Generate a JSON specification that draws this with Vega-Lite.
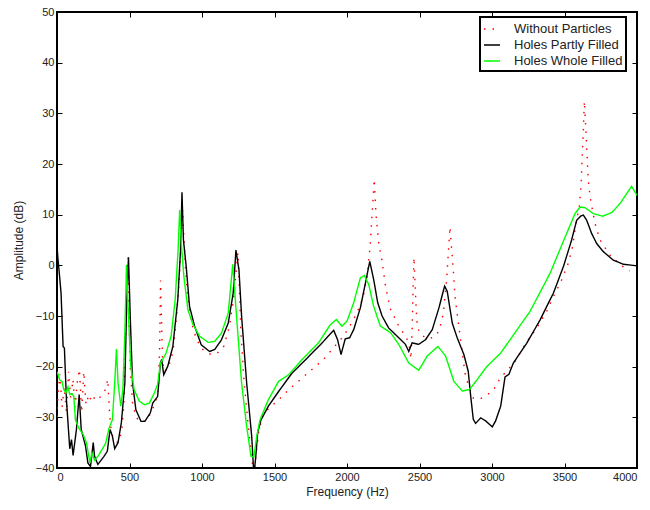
{
  "$schema": "https://vega.github.io/schema/vega-lite/v6.json",
  "width": 580,
  "height": 456,
  "autosize": "none",
  "padding": {"left": 57, "top": 12, "right": 13, "bottom": 42},
  "config": {
    "font": "Liberation Sans",
    "view": {"stroke": "#000000", "strokeWidth": 2},
    "axis": {"grid": false, "domain": false, "tickColor": "#000000", "tickWidth": 1, "tickSize": -5, "labelFontSize": 11, "labelColor": "#222222", "titleFontSize": 12, "titleFontWeight": "normal", "titleColor": "#222222", "labelFont": "Liberation Sans", "titleFont": "Liberation Sans"},
    "legend": {"strokeColor": "#000000", "strokeWidth": 2, "padding": 3, "fillColor": "#ffffff"}
  },
  "data": {"values": [
    {"f":0,"a":-30,"s":"Without Particles"},{"f":8,"a":-25,"s":"Without Particles"},{"f":20,"a":-21.5,"s":"Without Particles"},{"f":35,"a":-28,"s":"Without Particles"},{"f":50,"a":-24,"s":"Without Particles"},{"f":65,"a":-29,"s":"Without Particles"},{"f":80,"a":-21,"s":"Without Particles"},{"f":95,"a":-26.5,"s":"Without Particles"},{"f":110,"a":-22.5,"s":"Without Particles"},{"f":125,"a":-28,"s":"Without Particles"},{"f":140,"a":-23,"s":"Without Particles"},{"f":155,"a":-20.5,"s":"Without Particles"},{"f":170,"a":-29,"s":"Without Particles"},{"f":185,"a":-21,"s":"Without Particles"},{"f":200,"a":-27.5,"s":"Without Particles"},{"f":220,"a":-25.5,"s":"Without Particles"},{"f":240,"a":-27,"s":"Without Particles"},{"f":260,"a":-26,"s":"Without Particles"},{"f":285,"a":-26.5,"s":"Without Particles"},{"f":310,"a":-25.5,"s":"Without Particles"},{"f":335,"a":-24.5,"s":"Without Particles"},{"f":350,"a":-22.5,"s":"Without Particles"},{"f":362,"a":-29,"s":"Without Particles"},{"f":375,"a":-33,"s":"Without Particles"},{"f":395,"a":-34.5,"s":"Without Particles"},{"f":420,"a":-35,"s":"Without Particles"},{"f":445,"a":-33,"s":"Without Particles"},{"f":460,"a":-28,"s":"Without Particles"},{"f":470,"a":-18,"s":"Without Particles"},{"f":478,"a":-8,"s":"Without Particles"},{"f":485,"a":0.5,"s":"Without Particles"},{"f":490,"a":1.5,"s":"Without Particles"},{"f":495,"a":-8,"s":"Without Particles"},{"f":505,"a":-20,"s":"Without Particles"},{"f":520,"a":-27,"s":"Without Particles"},{"f":545,"a":-30,"s":"Without Particles"},{"f":580,"a":-31,"s":"Without Particles"},{"f":620,"a":-30.5,"s":"Without Particles"},{"f":650,"a":-29,"s":"Without Particles"},{"f":680,"a":-27,"s":"Without Particles"},{"f":700,"a":-24,"s":"Without Particles"},{"f":708,"a":-16,"s":"Without Particles"},{"f":714,"a":-3,"s":"Without Particles"},{"f":720,"a":-10,"s":"Without Particles"},{"f":728,"a":-19,"s":"Without Particles"},{"f":740,"a":-21,"s":"Without Particles"},{"f":770,"a":-20,"s":"Without Particles"},{"f":800,"a":-17,"s":"Without Particles"},{"f":825,"a":-10,"s":"Without Particles"},{"f":845,"a":-2,"s":"Without Particles"},{"f":858,"a":6,"s":"Without Particles"},{"f":866,"a":11,"s":"Without Particles"},{"f":874,"a":6,"s":"Without Particles"},{"f":885,"a":0,"s":"Without Particles"},{"f":900,"a":-6,"s":"Without Particles"},{"f":925,"a":-11,"s":"Without Particles"},{"f":960,"a":-14.5,"s":"Without Particles"},{"f":1000,"a":-16.5,"s":"Without Particles"},{"f":1050,"a":-17.5,"s":"Without Particles"},{"f":1100,"a":-17.5,"s":"Without Particles"},{"f":1150,"a":-16,"s":"Without Particles"},{"f":1190,"a":-12,"s":"Without Particles"},{"f":1220,"a":-6,"s":"Without Particles"},{"f":1240,"a":0,"s":"Without Particles"},{"f":1248,"a":2.5,"s":"Without Particles"},{"f":1256,"a":-3,"s":"Without Particles"},{"f":1268,"a":-13,"s":"Without Particles"},{"f":1290,"a":-23,"s":"Without Particles"},{"f":1320,"a":-32,"s":"Without Particles"},{"f":1345,"a":-38.5,"s":"Without Particles"},{"f":1358,"a":-41,"s":"Without Particles"},{"f":1370,"a":-38,"s":"Without Particles"},{"f":1390,"a":-33,"s":"Without Particles"},{"f":1420,"a":-29.5,"s":"Without Particles"},{"f":1470,"a":-28,"s":"Without Particles"},{"f":1530,"a":-26.5,"s":"Without Particles"},{"f":1600,"a":-24.5,"s":"Without Particles"},{"f":1680,"a":-22.5,"s":"Without Particles"},{"f":1760,"a":-20.5,"s":"Without Particles"},{"f":1840,"a":-18.5,"s":"Without Particles"},{"f":1900,"a":-16.5,"s":"Without Particles"},{"f":1975,"a":-14,"s":"Without Particles"},{"f":2040,"a":-11,"s":"Without Particles"},{"f":2090,"a":-8,"s":"Without Particles"},{"f":2113,"a":-6,"s":"Without Particles"},{"f":2140,"a":-2,"s":"Without Particles"},{"f":2160,"a":4,"s":"Without Particles"},{"f":2175,"a":11,"s":"Without Particles"},{"f":2188,"a":17,"s":"Without Particles"},{"f":2200,"a":10,"s":"Without Particles"},{"f":2220,"a":4,"s":"Without Particles"},{"f":2239,"a":1.4,"s":"Without Particles"},{"f":2265,"a":-4,"s":"Without Particles"},{"f":2297,"a":-8.5,"s":"Without Particles"},{"f":2354,"a":-11.8,"s":"Without Particles"},{"f":2412,"a":-14.4,"s":"Without Particles"},{"f":2430,"a":-16,"s":"Without Particles"},{"f":2441,"a":-18.5,"s":"Without Particles"},{"f":2450,"a":-12,"s":"Without Particles"},{"f":2456,"a":-4,"s":"Without Particles"},{"f":2462,"a":1.6,"s":"Without Particles"},{"f":2470,"a":-4,"s":"Without Particles"},{"f":2478,"a":-9,"s":"Without Particles"},{"f":2485,"a":-12.1,"s":"Without Particles"},{"f":2508,"a":-13.7,"s":"Without Particles"},{"f":2560,"a":-14.5,"s":"Without Particles"},{"f":2607,"a":-14.1,"s":"Without Particles"},{"f":2637,"a":-12.8,"s":"Without Particles"},{"f":2664,"a":-9.5,"s":"Without Particles"},{"f":2687,"a":-2.9,"s":"Without Particles"},{"f":2700,"a":3,"s":"Without Particles"},{"f":2710,"a":7.6,"s":"Without Particles"},{"f":2722,"a":3,"s":"Without Particles"},{"f":2733,"a":-0.9,"s":"Without Particles"},{"f":2745,"a":-6.2,"s":"Without Particles"},{"f":2768,"a":-11.4,"s":"Without Particles"},{"f":2791,"a":-16.4,"s":"Without Particles"},{"f":2814,"a":-21.3,"s":"Without Particles"},{"f":2840,"a":-24,"s":"Without Particles"},{"f":2871,"a":-26.2,"s":"Without Particles"},{"f":2917,"a":-26.4,"s":"Without Particles"},{"f":2974,"a":-25.4,"s":"Without Particles"},{"f":3014,"a":-24.4,"s":"Without Particles"},{"f":3043,"a":-22.9,"s":"Without Particles"},{"f":3078,"a":-21.6,"s":"Without Particles"},{"f":3119,"a":-20.3,"s":"Without Particles"},{"f":3158,"a":-19,"s":"Without Particles"},{"f":3230,"a":-15.5,"s":"Without Particles"},{"f":3308,"a":-12.4,"s":"Without Particles"},{"f":3377,"a":-9.1,"s":"Without Particles"},{"f":3423,"a":-6.2,"s":"Without Particles"},{"f":3480,"a":-2.9,"s":"Without Particles"},{"f":3526,"a":0.4,"s":"Without Particles"},{"f":3556,"a":3.7,"s":"Without Particles"},{"f":3579,"a":8.3,"s":"Without Particles"},{"f":3602,"a":11.5,"s":"Without Particles"},{"f":3614,"a":15.5,"s":"Without Particles"},{"f":3620,"a":20.1,"s":"Without Particles"},{"f":3630,"a":26.7,"s":"Without Particles"},{"f":3637,"a":32.4,"s":"Without Particles"},{"f":3647,"a":27,"s":"Without Particles"},{"f":3655,"a":22,"s":"Without Particles"},{"f":3664,"a":16.8,"s":"Without Particles"},{"f":3676,"a":13.5,"s":"Without Particles"},{"f":3710,"a":8.3,"s":"Without Particles"},{"f":3745,"a":5,"s":"Without Particles"},{"f":3814,"a":2,"s":"Without Particles"},{"f":3894,"a":-0.1,"s":"Without Particles"},{"f":3950,"a":-1.1,"s":"Without Particles"},

    {"f":0,"a":4,"s":"Holes Partly Filled"},{"f":5,"a":1.8,"s":"Holes Partly Filled"},{"f":18,"a":-2.2,"s":"Holes Partly Filled"},{"f":28,"a":-5.5,"s":"Holes Partly Filled"},{"f":42,"a":-16,"s":"Holes Partly Filled"},{"f":51,"a":-16.3,"s":"Holes Partly Filled"},{"f":65,"a":-26.5,"s":"Holes Partly Filled"},{"f":88,"a":-36.2,"s":"Holes Partly Filled"},{"f":100,"a":-34.4,"s":"Holes Partly Filled"},{"f":111,"a":-37.5,"s":"Holes Partly Filled"},{"f":134,"a":-32.4,"s":"Holes Partly Filled"},{"f":153,"a":-25.5,"s":"Holes Partly Filled"},{"f":167,"a":-32.4,"s":"Holes Partly Filled"},{"f":197,"a":-35.7,"s":"Holes Partly Filled"},{"f":213,"a":-39,"s":"Holes Partly Filled"},{"f":231,"a":-39.7,"s":"Holes Partly Filled"},{"f":250,"a":-35,"s":"Holes Partly Filled"},{"f":259,"a":-37.7,"s":"Holes Partly Filled"},{"f":282,"a":-39.3,"s":"Holes Partly Filled"},{"f":324,"a":-37.7,"s":"Holes Partly Filled"},{"f":347,"a":-36.7,"s":"Holes Partly Filled"},{"f":366,"a":-32.4,"s":"Holes Partly Filled"},{"f":382,"a":-33.7,"s":"Holes Partly Filled"},{"f":398,"a":-36.2,"s":"Holes Partly Filled"},{"f":421,"a":-35,"s":"Holes Partly Filled"},{"f":444,"a":-31,"s":"Holes Partly Filled"},{"f":468,"a":-23.2,"s":"Holes Partly Filled"},{"f":481,"a":-6.8,"s":"Holes Partly Filled"},{"f":493,"a":1.6,"s":"Holes Partly Filled"},{"f":505,"a":-10,"s":"Holes Partly Filled"},{"f":521,"a":-23.2,"s":"Holes Partly Filled"},{"f":544,"a":-28.5,"s":"Holes Partly Filled"},{"f":579,"a":-30.8,"s":"Holes Partly Filled"},{"f":606,"a":-30.8,"s":"Holes Partly Filled"},{"f":644,"a":-29.1,"s":"Holes Partly Filled"},{"f":660,"a":-27.2,"s":"Holes Partly Filled"},{"f":694,"a":-25.9,"s":"Holes Partly Filled"},{"f":713,"a":-19.3,"s":"Holes Partly Filled"},{"f":722,"a":-18.6,"s":"Holes Partly Filled"},{"f":736,"a":-21.6,"s":"Holes Partly Filled"},{"f":764,"a":-19.9,"s":"Holes Partly Filled"},{"f":799,"a":-16,"s":"Holes Partly Filled"},{"f":833,"a":-6.8,"s":"Holes Partly Filled"},{"f":852,"a":3,"s":"Holes Partly Filled"},{"f":862,"a":14.4,"s":"Holes Partly Filled"},{"f":872,"a":5,"s":"Holes Partly Filled"},{"f":891,"a":-0.2,"s":"Holes Partly Filled"},{"f":914,"a":-8.1,"s":"Holes Partly Filled"},{"f":949,"a":-12,"s":"Holes Partly Filled"},{"f":995,"a":-15.7,"s":"Holes Partly Filled"},{"f":1053,"a":-17,"s":"Holes Partly Filled"},{"f":1088,"a":-16.6,"s":"Holes Partly Filled"},{"f":1134,"a":-14.7,"s":"Holes Partly Filled"},{"f":1181,"a":-11.4,"s":"Holes Partly Filled"},{"f":1215,"a":-5.5,"s":"Holes Partly Filled"},{"f":1234,"a":3,"s":"Holes Partly Filled"},{"f":1255,"a":-0.9,"s":"Holes Partly Filled"},{"f":1273,"a":-10,"s":"Holes Partly Filled"},{"f":1308,"a":-23.2,"s":"Holes Partly Filled"},{"f":1343,"a":-33.8,"s":"Holes Partly Filled"},{"f":1358,"a":-41.5,"s":"Holes Partly Filled"},{"f":1370,"a":-38,"s":"Holes Partly Filled"},{"f":1384,"a":-33,"s":"Holes Partly Filled"},{"f":1407,"a":-30.5,"s":"Holes Partly Filled"},{"f":1458,"a":-27.8,"s":"Holes Partly Filled"},{"f":1528,"a":-24.9,"s":"Holes Partly Filled"},{"f":1620,"a":-21.3,"s":"Holes Partly Filled"},{"f":1736,"a":-18,"s":"Holes Partly Filled"},{"f":1829,"a":-15.3,"s":"Holes Partly Filled"},{"f":1908,"a":-12.8,"s":"Holes Partly Filled"},{"f":1935,"a":-14.7,"s":"Holes Partly Filled"},{"f":1959,"a":-17.6,"s":"Holes Partly Filled"},{"f":1988,"a":-14.5,"s":"Holes Partly Filled"},{"f":2018,"a":-14.3,"s":"Holes Partly Filled"},{"f":2046,"a":-12.7,"s":"Holes Partly Filled"},{"f":2092,"a":-8.4,"s":"Holes Partly Filled"},{"f":2127,"a":-3.5,"s":"Holes Partly Filled"},{"f":2157,"a":0.8,"s":"Holes Partly Filled"},{"f":2184,"a":-2.8,"s":"Holes Partly Filled"},{"f":2212,"a":-7.4,"s":"Holes Partly Filled"},{"f":2242,"a":-10,"s":"Holes Partly Filled"},{"f":2288,"a":-12.4,"s":"Holes Partly Filled"},{"f":2346,"a":-14,"s":"Holes Partly Filled"},{"f":2403,"a":-15.6,"s":"Holes Partly Filled"},{"f":2426,"a":-17,"s":"Holes Partly Filled"},{"f":2449,"a":-15.3,"s":"Holes Partly Filled"},{"f":2495,"a":-15.6,"s":"Holes Partly Filled"},{"f":2541,"a":-14.7,"s":"Holes Partly Filled"},{"f":2588,"a":-12.7,"s":"Holes Partly Filled"},{"f":2634,"a":-8.4,"s":"Holes Partly Filled"},{"f":2673,"a":-4.1,"s":"Holes Partly Filled"},{"f":2691,"a":-5.1,"s":"Holes Partly Filled"},{"f":2726,"a":-11.4,"s":"Holes Partly Filled"},{"f":2760,"a":-14.3,"s":"Holes Partly Filled"},{"f":2806,"a":-17.6,"s":"Holes Partly Filled"},{"f":2836,"a":-20.9,"s":"Holes Partly Filled"},{"f":2853,"a":-25.8,"s":"Holes Partly Filled"},{"f":2871,"a":-30.4,"s":"Holes Partly Filled"},{"f":2887,"a":-31.2,"s":"Holes Partly Filled"},{"f":2922,"a":-30.1,"s":"Holes Partly Filled"},{"f":2956,"a":-30.7,"s":"Holes Partly Filled"},{"f":3002,"a":-31.9,"s":"Holes Partly Filled"},{"f":3025,"a":-30.7,"s":"Holes Partly Filled"},{"f":3060,"a":-27.8,"s":"Holes Partly Filled"},{"f":3090,"a":-22,"s":"Holes Partly Filled"},{"f":3117,"a":-21.5,"s":"Holes Partly Filled"},{"f":3147,"a":-19.3,"s":"Holes Partly Filled"},{"f":3239,"a":-15.4,"s":"Holes Partly Filled"},{"f":3331,"a":-10.8,"s":"Holes Partly Filled"},{"f":3423,"a":-5.5,"s":"Holes Partly Filled"},{"f":3492,"a":-0.3,"s":"Holes Partly Filled"},{"f":3549,"a":5,"s":"Holes Partly Filled"},{"f":3584,"a":8.9,"s":"Holes Partly Filled"},{"f":3611,"a":9.7,"s":"Holes Partly Filled"},{"f":3630,"a":9.9,"s":"Holes Partly Filled"},{"f":3653,"a":8.9,"s":"Holes Partly Filled"},{"f":3687,"a":6.3,"s":"Holes Partly Filled"},{"f":3722,"a":4.3,"s":"Holes Partly Filled"},{"f":3768,"a":2.7,"s":"Holes Partly Filled"},{"f":3837,"a":1,"s":"Holes Partly Filled"},{"f":3906,"a":0.2,"s":"Holes Partly Filled"},{"f":4000,"a":-0.1,"s":"Holes Partly Filled"},

    {"f":0,"a":-21,"s":"Holes Whole Filled"},{"f":5,"a":-21.3,"s":"Holes Whole Filled"},{"f":18,"a":-22.6,"s":"Holes Whole Filled"},{"f":35,"a":-22.9,"s":"Holes Whole Filled"},{"f":46,"a":-24.5,"s":"Holes Whole Filled"},{"f":62,"a":-25.2,"s":"Holes Whole Filled"},{"f":76,"a":-24,"s":"Holes Whole Filled"},{"f":88,"a":-25.5,"s":"Holes Whole Filled"},{"f":104,"a":-25.3,"s":"Holes Whole Filled"},{"f":116,"a":-25.9,"s":"Holes Whole Filled"},{"f":127,"a":-30.5,"s":"Holes Whole Filled"},{"f":150,"a":-32.1,"s":"Holes Whole Filled"},{"f":181,"a":-33.4,"s":"Holes Whole Filled"},{"f":204,"a":-35.1,"s":"Holes Whole Filled"},{"f":227,"a":-39,"s":"Holes Whole Filled"},{"f":241,"a":-37,"s":"Holes Whole Filled"},{"f":259,"a":-38.5,"s":"Holes Whole Filled"},{"f":289,"a":-37.4,"s":"Holes Whole Filled"},{"f":336,"a":-35.1,"s":"Holes Whole Filled"},{"f":359,"a":-32.1,"s":"Holes Whole Filled"},{"f":382,"a":-30.5,"s":"Holes Whole Filled"},{"f":398,"a":-23.2,"s":"Holes Whole Filled"},{"f":410,"a":-16.5,"s":"Holes Whole Filled"},{"f":421,"a":-23.2,"s":"Holes Whole Filled"},{"f":440,"a":-27.8,"s":"Holes Whole Filled"},{"f":454,"a":-24.5,"s":"Holes Whole Filled"},{"f":468,"a":-13.4,"s":"Holes Whole Filled"},{"f":479,"a":0.1,"s":"Holes Whole Filled"},{"f":493,"a":-10,"s":"Holes Whole Filled"},{"f":509,"a":-20,"s":"Holes Whole Filled"},{"f":532,"a":-24.5,"s":"Holes Whole Filled"},{"f":567,"a":-26.8,"s":"Holes Whole Filled"},{"f":602,"a":-27.5,"s":"Holes Whole Filled"},{"f":637,"a":-27.2,"s":"Holes Whole Filled"},{"f":671,"a":-25.2,"s":"Holes Whole Filled"},{"f":694,"a":-23.5,"s":"Holes Whole Filled"},{"f":713,"a":-19.3,"s":"Holes Whole Filled"},{"f":729,"a":-18.6,"s":"Holes Whole Filled"},{"f":752,"a":-17.3,"s":"Holes Whole Filled"},{"f":787,"a":-14,"s":"Holes Whole Filled"},{"f":815,"a":-6.8,"s":"Holes Whole Filled"},{"f":835,"a":3,"s":"Holes Whole Filled"},{"f":846,"a":10.9,"s":"Holes Whole Filled"},{"f":858,"a":4,"s":"Holes Whole Filled"},{"f":875,"a":-2.2,"s":"Holes Whole Filled"},{"f":903,"a":-8.8,"s":"Holes Whole Filled"},{"f":938,"a":-11.7,"s":"Holes Whole Filled"},{"f":984,"a":-14,"s":"Holes Whole Filled"},{"f":1042,"a":-15.2,"s":"Holes Whole Filled"},{"f":1088,"a":-15,"s":"Holes Whole Filled"},{"f":1134,"a":-13.4,"s":"Holes Whole Filled"},{"f":1181,"a":-9.4,"s":"Holes Whole Filled"},{"f":1200,"a":-3.5,"s":"Holes Whole Filled"},{"f":1212,"a":0.2,"s":"Holes Whole Filled"},{"f":1238,"a":-10,"s":"Holes Whole Filled"},{"f":1273,"a":-23.2,"s":"Holes Whole Filled"},{"f":1308,"a":-31.8,"s":"Holes Whole Filled"},{"f":1338,"a":-37.7,"s":"Holes Whole Filled"},{"f":1358,"a":-37.8,"s":"Holes Whole Filled"},{"f":1377,"a":-33.8,"s":"Holes Whole Filled"},{"f":1400,"a":-30.5,"s":"Holes Whole Filled"},{"f":1458,"a":-26.5,"s":"Holes Whole Filled"},{"f":1528,"a":-22.9,"s":"Holes Whole Filled"},{"f":1597,"a":-21.6,"s":"Holes Whole Filled"},{"f":1690,"a":-18.6,"s":"Holes Whole Filled"},{"f":1806,"a":-15.2,"s":"Holes Whole Filled"},{"f":1885,"a":-11.7,"s":"Holes Whole Filled"},{"f":1926,"a":-10.7,"s":"Holes Whole Filled"},{"f":1965,"a":-12,"s":"Holes Whole Filled"},{"f":2000,"a":-11,"s":"Holes Whole Filled"},{"f":2046,"a":-7.4,"s":"Holes Whole Filled"},{"f":2092,"a":-2.5,"s":"Holes Whole Filled"},{"f":2120,"a":-2,"s":"Holes Whole Filled"},{"f":2150,"a":-3.8,"s":"Holes Whole Filled"},{"f":2184,"a":-8.1,"s":"Holes Whole Filled"},{"f":2230,"a":-12,"s":"Holes Whole Filled"},{"f":2300,"a":-13.3,"s":"Holes Whole Filled"},{"f":2357,"a":-15.6,"s":"Holes Whole Filled"},{"f":2426,"a":-19.3,"s":"Holes Whole Filled"},{"f":2495,"a":-20.7,"s":"Holes Whole Filled"},{"f":2553,"a":-17.9,"s":"Holes Whole Filled"},{"f":2627,"a":-16,"s":"Holes Whole Filled"},{"f":2680,"a":-17.9,"s":"Holes Whole Filled"},{"f":2737,"a":-22.9,"s":"Holes Whole Filled"},{"f":2795,"a":-24.8,"s":"Holes Whole Filled"},{"f":2845,"a":-24.5,"s":"Holes Whole Filled"},{"f":2899,"a":-22.5,"s":"Holes Whole Filled"},{"f":2963,"a":-20,"s":"Holes Whole Filled"},{"f":3060,"a":-17.3,"s":"Holes Whole Filled"},{"f":3124,"a":-14.7,"s":"Holes Whole Filled"},{"f":3262,"a":-9.1,"s":"Holes Whole Filled"},{"f":3400,"a":-1.6,"s":"Holes Whole Filled"},{"f":3515,"a":6.3,"s":"Holes Whole Filled"},{"f":3572,"a":10.2,"s":"Holes Whole Filled"},{"f":3607,"a":11.5,"s":"Holes Whole Filled"},{"f":3641,"a":11.4,"s":"Holes Whole Filled"},{"f":3699,"a":10.2,"s":"Holes Whole Filled"},{"f":3763,"a":9.7,"s":"Holes Whole Filled"},{"f":3825,"a":10.4,"s":"Holes Whole Filled"},{"f":3883,"a":12.2,"s":"Holes Whole Filled"},{"f":3963,"a":15.6,"s":"Holes Whole Filled"},{"f":4000,"a":13.8,"s":"Holes Whole Filled"}
  ]},
  "layer": [
    {
      "mark": {"type": "line", "clip": true, "strokeWidth": 1.4},
      "encoding": {
        "x": {"field": "f", "type": "quantitative", "scale": {"domain": [0, 4000], "nice": false}, "axis": {"values": [0,500,1000,1500,2000,2500,3000,3500,4000], "format": "d", "title": "Frequency (Hz)", "labelPadding": 8, "titlePadding": 4}},
        "y": {"field": "a", "type": "quantitative", "scale": {"domain": [-40, 50], "nice": false, "zero": false}, "axis": {"values": [-40,-30,-20,-10,0,10,20,30,40,50], "title": "Amplitude (dB)", "labelPadding": 8, "titlePadding": 10}},
        "color": {"field": "s", "type": "nominal", "scale": {"domain": ["Without Particles", "Holes Partly Filled", "Holes Whole Filled"], "range": ["#ff0000", "#000000", "#00ff00"]}, "legend": {"title": null, "orient": "none", "legendX": 423, "legendY": 5, "labelFontSize": 13, "labelColor": "#222222", "symbolType": "stroke", "symbolSize": 256, "symbolStrokeWidth": 1.5, "rowPadding": -5, "labelOffset": 13}},
        "strokeDash": {"field": "s", "type": "nominal", "scale": {"domain": ["Without Particles", "Holes Partly Filled", "Holes Whole Filled"], "range": [[1.5, 7], [10, 0], [10, 0]]}, "legend": {"title": null, "orient": "none", "legendX": 423, "legendY": 5, "labelFontSize": 13, "symbolType": "stroke", "symbolSize": 256, "rowPadding": -5, "labelOffset": 13}}
      }
    },
    {
      "mark": {"type": "point", "opacity": 0},
      "encoding": {
        "x": {"field": "f", "type": "quantitative", "scale": {"domain": [0, 4000], "nice": false}, "axis": {"orient": "top", "values": [0,500,1000,1500,2000,2500,3000,3500,4000], "labels": false, "title": null}},
        "y": {"field": "a", "type": "quantitative", "scale": {"domain": [-40, 50], "nice": false, "zero": false}, "axis": {"orient": "right", "values": [-40,-30,-20,-10,0,10,20,30,40,50], "labels": false, "title": null}}
      }
    }
  ],
  "resolve": {"axis": {"x": "independent", "y": "independent"}}
}
